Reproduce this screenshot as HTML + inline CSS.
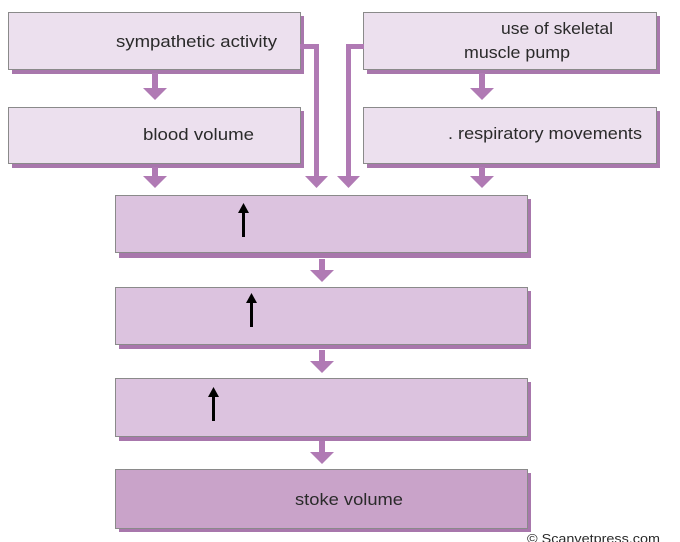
<!DOCTYPE html>
<html><head><meta charset="utf-8"><style>
html,body{margin:0;padding:0;background:#fff;width:680px;height:542px;overflow:hidden}
svg{display:block}
text{font-family:"Liberation Sans",sans-serif;fill:#2a2a2a}
</style></head><body>
<svg width="680" height="542" viewBox="0 0 680 542" xmlns="http://www.w3.org/2000/svg">
<g fill="#a877ac">
<rect x="12" y="16" width="292" height="58"/>
<rect x="12" y="111" width="292" height="57"/>
<rect x="367" y="16" width="293" height="58"/>
<rect x="367" y="111" width="293" height="57"/>
<rect x="119" y="199" width="412" height="59"/>
<rect x="119" y="291" width="412" height="58"/>
<rect x="119" y="382" width="412" height="59"/>
<rect x="119" y="473" width="412" height="59"/>
</g>
<g stroke="#8a8a8a" stroke-width="1">
<rect x="8.5" y="12.5" width="292" height="57" fill="#ece0ee"/>
<rect x="8.5" y="107.5" width="292" height="56" fill="#ece0ee"/>
<rect x="363.5" y="12.5" width="293" height="57" fill="#ece0ee"/>
<rect x="363.5" y="107.5" width="293" height="56" fill="#ece0ee"/>
<rect x="115.5" y="195.5" width="412" height="57" fill="#dcc3df"/>
<rect x="115.5" y="287.5" width="412" height="57" fill="#dcc3df"/>
<rect x="115.5" y="378.5" width="412" height="58" fill="#dcc3df"/>
<rect x="115.5" y="469.5" width="412" height="59" fill="#c9a3c9"/>
</g>
<g fill="#b07ab4">
<rect x="152" y="73" width="6" height="16"/><polygon points="143,88 167,88 155,100"/>
<rect x="152" y="167" width="6" height="11"/><polygon points="143,176 167,176 155,188"/>
<rect x="479" y="73" width="6" height="16"/><polygon points="470,88 494,88 482,100"/>
<rect x="479" y="167" width="6" height="11"/><polygon points="470,176 494,176 482,188"/>
<rect x="319" y="259" width="6" height="13"/><polygon points="310,270 334,270 322,282"/>
<rect x="319" y="350" width="6" height="13"/><polygon points="310,361 334,361 322,373"/>
<rect x="319" y="441" width="6" height="13"/><polygon points="310,452 334,452 322,464"/>
<rect x="300" y="44" width="19" height="5"/><rect x="314" y="44" width="5" height="134"/>
<polygon points="305,176 328,176 316.5,188"/>
<rect x="346" y="44" width="18" height="5"/><rect x="346" y="44" width="5" height="134"/>
<polygon points="337,176 360,176 348.5,188"/>
</g>
<g fill="#000">
<rect x="242" y="212" width="3" height="25"/><polygon points="238,213 249,213 243.5,203"/>
<rect x="250" y="302" width="3" height="25"/><polygon points="246,303 257,303 251.5,293"/>
<rect x="212" y="396" width="3" height="25"/><polygon points="208,397 219,397 213.5,387"/>
</g>
<text x="116" y="47" font-size="17" textLength="161" lengthAdjust="spacingAndGlyphs">sympathetic activity</text>
<text x="143" y="140" font-size="17" textLength="111" lengthAdjust="spacingAndGlyphs">blood volume</text>
<text x="501" y="34" font-size="17" textLength="112" lengthAdjust="spacingAndGlyphs">use of skeletal</text>
<text x="464" y="58" font-size="17" textLength="106" lengthAdjust="spacingAndGlyphs">muscle pump</text>
<text x="448" y="139" font-size="17" textLength="194" lengthAdjust="spacingAndGlyphs">. respiratory movements</text>
<text x="295" y="505" font-size="17" textLength="108" lengthAdjust="spacingAndGlyphs">stoke volume</text>
<text x="527" y="543" font-size="13" fill="#444" textLength="133" lengthAdjust="spacingAndGlyphs">© Scanvetpress.com</text>
</svg>
</body></html>
